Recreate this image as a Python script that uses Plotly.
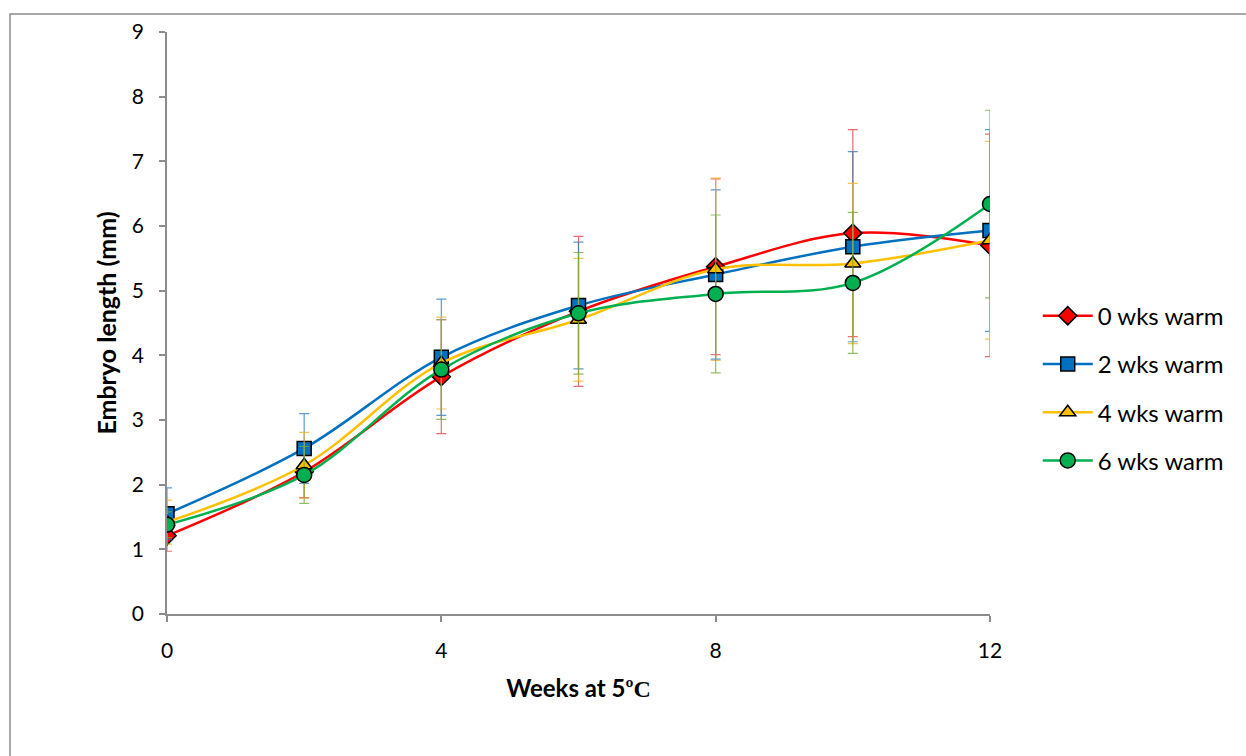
import plotly.graph_objects as go

weeks = [0, 2, 4, 6, 8, 10, 12]

series_names = ["0 wks warm", "2 wks warm", "4 wks warm", "6 wks warm"]

len_0wk = [1.21, 2.20, 3.67, 4.68, 5.37, 5.89, 5.70]
len_2wk = [1.55, 2.56, 3.97, 4.77, 5.25, 5.68, 5.93]
len_4wk = [1.42, 2.30, 3.88, 4.55, 5.33, 5.42, 5.78]
len_6wk = [1.38, 2.15, 3.78, 4.65, 4.95, 5.12, 6.34]

err_0wk = [0.24, 0.40, 0.88, 1.16, 1.36, 1.60, 1.72]
err_2wk = [0.40, 0.54, 0.90, 0.98, 1.31, 1.47, 1.56]
err_4wk = [0.34, 0.51, 0.71, 0.95, 1.41, 1.24, 1.53]
err_6wk = [0.20, 0.44, 0.77, 0.94, 1.22, 1.09, 1.45]

line_colors = ["#FF0000", "#0070C0", "#FFC000", "#00B050"]
err_colors = ["rgba(230,60,60,0.75)", "rgba(40,120,190,0.75)",
              "rgba(240,180,40,0.8)", "rgba(120,170,60,0.8)"]
symbols = ["diamond", "square", "triangle-up", "circle"]
sizes = [14, 14, 14, 15]

means = [len_0wk, len_2wk, len_4wk, len_6wk]
errs = [err_0wk, err_2wk, err_4wk, err_6wk]

FONT = "Lato, 'Open Sans', sans-serif"

fig = go.Figure()
for i, name in enumerate(series_names):
    fig.add_trace(go.Scatter(
        x=weeks, y=means[i], name=name, mode="lines+markers",
        legendgroup=name,
        line=dict(color=line_colors[i], width=2.5, shape="spline", smoothing=1.0),
        marker=dict(symbol=symbols[i], size=sizes[i], color=line_colors[i],
                    line=dict(color="black", width=1.5)),
        error_y=dict(type="data", array=errs[i], visible=True,
                     color=err_colors[i], thickness=1.2, width=5),
    ))

# outer chart frame
l, r, t, b = 167, 256, 32, 142
pw, ph = 1246 - l - r, 756 - t - b
fig.add_shape(type="rect", xref="paper", yref="paper",
              x0=(10 - l) / pw, x1=(1252 - l) / pw,
              y0=(756 - b - 762) / ph, y1=(756 - b - 14) / ph,
              line=dict(color="#8C8C8C", width=1.5), fillcolor="rgba(0,0,0,0)",
              layer="below")

fig.update_layout(
    width=1246, height=756,
    margin=dict(l=l, r=r, t=t, b=b),
    paper_bgcolor="white", plot_bgcolor="white",
    font=dict(family=FONT, color="black", size=20),
    showlegend=True,
    legend=dict(x=1.058, xanchor="left", y=0.388, yanchor="middle",
                font=dict(size=24, family=FONT), tracegroupgap=14,
                itemwidth=50,
                traceorder="grouped", bgcolor="rgba(0,0,0,0)"),
    xaxis=dict(range=[0, 12], tickvals=[0, 4, 8, 12], showgrid=False,
               zeroline=False, showline=True, linecolor="#8C8C8C", linewidth=1.5,
               ticks="outside", ticklen=6, tickcolor="#8C8C8C", tickwidth=1.5,
               ticklabelstandoff=11, tickfont=dict(size=21),
               title=dict(text="<b>Weeks at 5<span style=\"font-family:'Liberation Serif'\">ºC</span></b>",
                          font=dict(size=24), standoff=19)),
    yaxis=dict(range=[0, 9], dtick=1, showgrid=False, zeroline=False,
               showline=True, linecolor="#8C8C8C", linewidth=1.5,
               ticks="outside", ticklen=6, tickcolor="#8C8C8C", tickwidth=1.5,
               ticklabelstandoff=11, tickfont=dict(size=21),
               title=dict(text="<b>Embryo length (mm)</b>", font=dict(size=25),
                          standoff=8)),
)

fig.write_html("out.html")
